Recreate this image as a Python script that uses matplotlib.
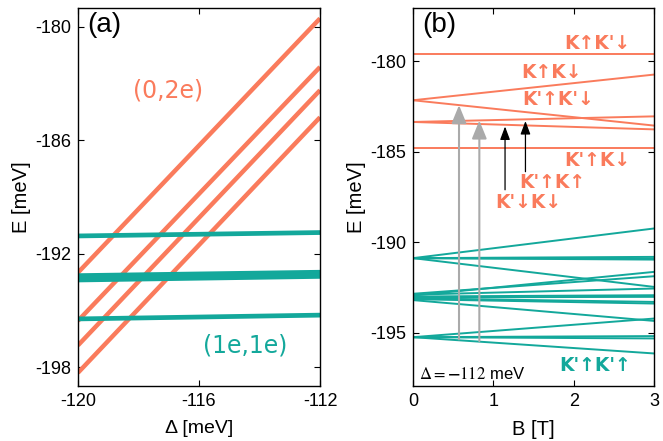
"""
Two-electron spectrum: (a) energy vs detuning, (b) energy vs magnetic field
"""

import matplotlib
matplotlib.use("Agg")
import matplotlib.pyplot as plt

plt.rcParams["font.family"] = ["Liberation Sans", "DejaVu Sans"]
plt.rcParams["mathtext.fontset"] = "stix"
plt.rcParams["axes.unicode_minus"] = False

ORANGE = "#FA7B5C"
TEAL = "#13A89B"

# ─────────────────────────────────────────────
# DATA
# ─────────────────────────────────────────────

# (a) energy at Δ = -120 and Δ = -112 meV
delta_ends = [-120, -112]
orange_a_left = [-193.0, -195.55, -196.85, -198.3]
orange_a_right = [-179.55, -182.12, -183.35, -184.78]
teal_a_left = [-191.06, -193.16, -193.28, -193.39, -195.45]
teal_a_right = [-190.88, -192.98, -193.09, -193.20, -195.25]

# (b) energy at B = 0 and B = 3 T (Δ = -112 meV)
b_ends = [0, 3]
orange_b_start = [-179.57, -182.15, -182.15, -183.35, -183.35, -184.79]
orange_b_end = [-179.57, -180.73, -183.55, -183.04, -183.76, -184.79]
teal_b_start = [-190.88, -190.88, -190.88, -190.88, -190.88,
                -192.95, -192.85, -192.90, -193.00, -193.05, -193.10, -193.15, -193.20,
                -195.25, -195.25, -195.25, -195.25]
teal_b_end = [-189.24, -190.81, -190.90, -190.96, -192.47,
              -191.64, -191.88, -192.56, -192.93, -193.02, -193.30, -193.39, -194.35,
              -194.22, -195.19, -195.32, -196.15]

# transitions: B position, start energy, end energy
gray_arrow_B = [0.573, 0.826]
gray_arrow_from = [-195.37, -195.47]
gray_arrow_to = [-182.42, -183.27]
black_arrow_B = [1.146, 1.40]
black_arrow_from = [-187.1, -186.1]
black_arrow_to = [-183.6, -183.3]

# state labels: text, B, E, colour
state_labels = ["K\u2191K'\u2193", "K\u2191K\u2193", "K'\u2191K'\u2193",
                "K'\u2191K\u2193", "K'\u2191K\u2191", "K'\u2193K\u2193", "K'\u2191K'\u2191"]
state_B = [2.29, 1.73, 1.81, 2.29, 1.73, 1.43, 2.27]
state_E = [-179.0, -180.61, -182.1, -185.47, -186.69, -187.79, -196.8]
state_col = [ORANGE, ORANGE, ORANGE, ORANGE, ORANGE, ORANGE, TEAL]

# ─────────────────────────────────────────────
# FIGURE
# ─────────────────────────────────────────────

fig = plt.figure(figsize=(6.63, 4.41), dpi=100)
ax1 = fig.add_axes([0.1176, 0.1247, 0.3651, 0.8571])
ax2 = fig.add_axes([0.6229, 0.1247, 0.3635, 0.8571])

for ax in (ax1, ax2):
    ax.tick_params(direction="in", top=True, right=True, length=4, width=0.8,
                   labelsize=13, pad=5)
    for s in ax.spines.values():
        s.set_linewidth(1.0)

# ── panel (a)
for y0, y1 in zip(orange_a_left, orange_a_right):
    ax1.plot(delta_ends, [y0, y1], color=ORANGE, lw=3.2, solid_capstyle="butt")
for y0, y1 in zip(teal_a_left, teal_a_right):
    ax1.plot(delta_ends, [y0, y1], color=TEAL, lw=3.4, solid_capstyle="butt")

ax1.set_xlim(-120, -112)
ax1.set_ylim(-199, -179)
ax1.set_xticks([-120, -116, -112])
ax1.set_yticks([-180, -186, -192, -198])
ax1.set_xlabel("\u0394 [meV]", fontsize=14, labelpad=7)
ax1.set_ylabel("E [meV]", fontsize=14.5, labelpad=3)
ax1.text(0.037, 0.955, "(a)", transform=ax1.transAxes, fontsize=20,
         ha="left", va="center")
ax1.text(-117.02, -183.34, "(0,2e)", color=ORANGE, fontsize=17,
         family="DejaVu Sans", ha="center", va="center")
ax1.text(-114.48, -196.85, "(1e,1e)", color=TEAL, fontsize=17,
         family="DejaVu Sans", ha="center", va="center")

# ── panel (b)
for y0, y1 in zip(teal_b_start, teal_b_end):
    ax2.plot(b_ends, [y0, y1], color=TEAL, lw=1.4)
for y0, y1 in zip(orange_b_start, orange_b_end):
    ax2.plot(b_ends, [y0, y1], color=ORANGE, lw=1.4)

for b, y0, y1 in zip(gray_arrow_B, gray_arrow_from, gray_arrow_to):
    ax2.annotate("", xy=(b, y1), xytext=(b, y0),
                 arrowprops=dict(arrowstyle="-|>,head_length=1.1,head_width=0.45",
                                 color="#AAAAAA", lw=1.5, shrinkA=0, shrinkB=0))
for b, y0, y1 in zip(black_arrow_B, black_arrow_from, black_arrow_to):
    ax2.annotate("", xy=(b, y1), xytext=(b, y0),
                 arrowprops=dict(arrowstyle="-|>,head_length=0.8,head_width=0.3",
                                 color="black", lw=0.9, shrinkA=0, shrinkB=0))

for txt, b, e, c in zip(state_labels, state_B, state_E, state_col):
    ax2.text(b, e, txt, color=c, fontsize=13.5, fontweight="bold",
             family="DejaVu Sans", ha="center", va="center")

ax2.text(0.075, -197.3, r"$\Delta = \mathbf{-}112$ meV", fontsize=12,
         ha="left", va="center")

ax2.set_xlim(0, 3)
ax2.set_ylim(-197.95, -177.05)
ax2.set_xticks([0, 1, 2, 3])
ax2.set_yticks([-180, -185, -190, -195])
ax2.set_xlabel("B [T]", fontsize=14.5, labelpad=7)
ax2.set_ylabel("E [meV]", fontsize=14.5, labelpad=3)
ax2.text(0.037, 0.955, "(b)", transform=ax2.transAxes, fontsize=20,
         ha="left", va="center")

plt.savefig("out.png", dpi=100)
